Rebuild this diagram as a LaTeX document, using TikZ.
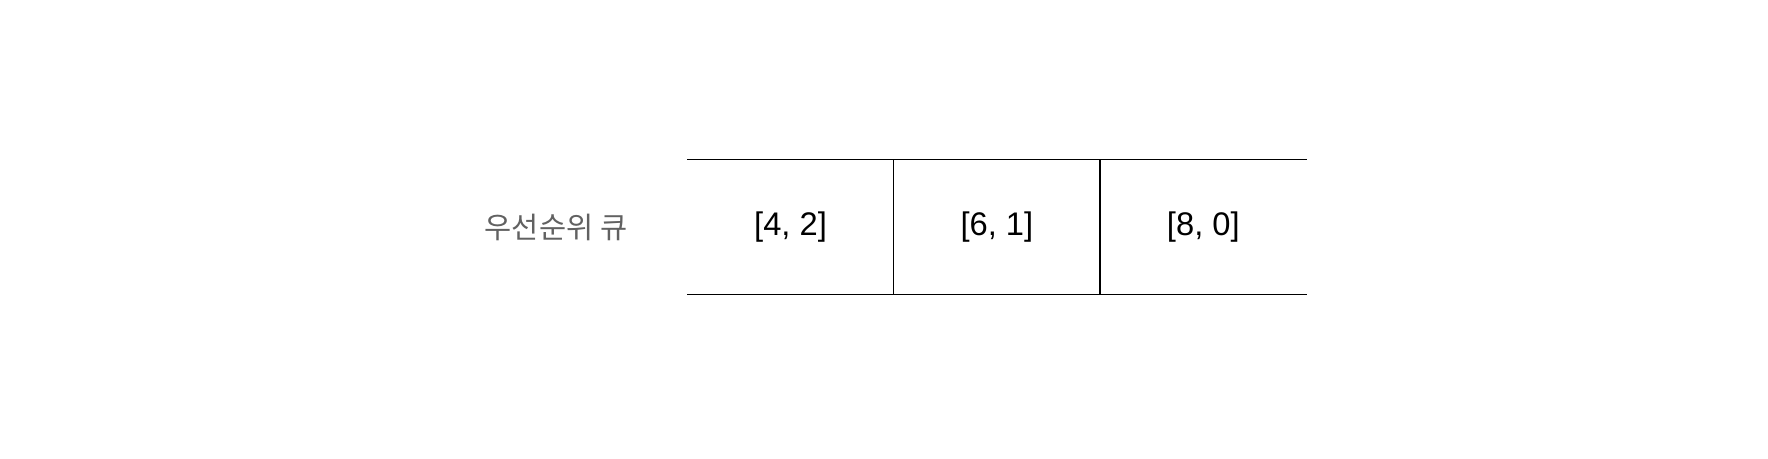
\documentclass[tikz,border=0pt]{standalone}
\usepackage{fontspec}
\setmainfont{Liberation Sans}
\newfontfamily\kr{Noto Sans CJK KR}
\usetikzlibrary{positioning}

\begin{document}
\begin{tikzpicture}
      [cell/.style={minimum width=2.05cm,minimum height=1.34cm,inner sep=0pt
                   ,font=\fontsize{9.3}{11}\selectfont}
      ,lin/.style={color=black,line width=.4pt}
      ,lbl/.style={color=black!62,inner sep=0pt,font=\kr\fontsize{8.4}{10}\selectfont}
      ]
        \useasboundingbox (0,0) rectangle (17.68,4.58);
        \node[cell] (c1) at (7.905,2.31) {[4, 2]};
        \node[cell,right=0pt of c1] (c2) {[6, 1]};
        \node[cell,right=0pt of c2] (c3) {[8, 0]};
        \node[lbl] (pq) at (5.56,2.31) {우선순위 큐};
        \draw[lin] (c1.north west) -- (c3.north east);
        \draw[lin] (c1.south west) -- (c3.south east);
        \foreach \i in {1,2}{
          \draw[lin] (c\i.north east) -- (c\i.south east);
        }
      \end{tikzpicture}
\end{document}
